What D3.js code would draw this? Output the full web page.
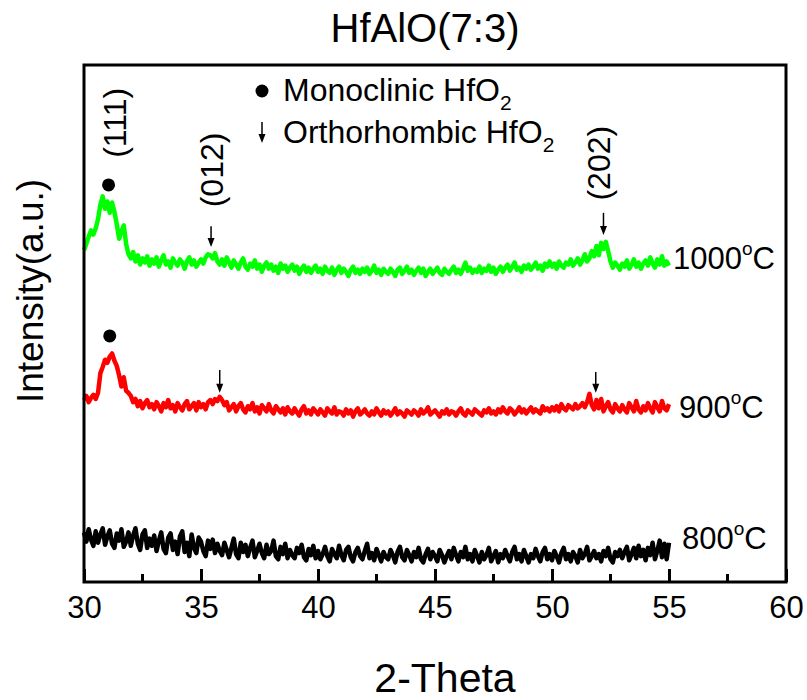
<!DOCTYPE html>
<html>
<head>
<meta charset="utf-8">
<script src="https://cdn.jsdelivr.net/npm/d3@7"></script>
<style>
  body { margin: 0; background: #fff; }
  text { font-family: Arial, "Liberation Sans", sans-serif; fill: #000; }
</style>
</head>
<body>
<script>
// 2-theta grid of the scans (0.1 deg steps, 30 - 55)
var twoTheta = d3.range(0, 251).map(function(i) { return +(30 + i * 0.1).toFixed(1); });

// intensities as plotted (offsets already in), one row per degree
var int800 = [
  96, 78, 102, 82, 70, 98, 76, 92, 104, 72,
  88, 100, 74, 66, 94, 80, 102, 68, 78, 96,
  70, 90, 104, 74, 62, 92, 100, 66, 84, 70,
  90, 60, 80, 96, 64, 56, 86, 94, 62, 78,
  54, 88, 98, 58, 76, 50, 92, 66, 56, 86,
  78, 60, 50, 80, 64, 82, 56, 74, 60, 52,
  76, 62, 48, 66, 84, 54, 46, 76, 58, 72,
  50, 66, 80, 48, 60, 74, 56, 46, 72, 54,
  60, 80, 50, 44, 68, 54, 74, 46, 62, 52,
  46, 66, 56, 72, 48, 42, 64, 52, 70, 46,
  60, 44, 54, 68, 50, 40, 64, 54, 46, 70,
  52, 42, 62, 68, 48, 40, 58, 66, 50, 44,
  60, 74, 46, 56, 42, 64, 52, 40, 58, 48,
  44, 62, 52, 38, 58, 68, 48, 42, 62, 52,
  40, 58, 48, 66, 44, 38, 54, 64, 44, 58,
  50, 40, 62, 52, 38, 50, 60, 44, 66, 52,
  40, 58, 48, 68, 44, 54, 40, 62, 50, 38,
  58, 44, 52, 66, 40, 50, 60, 38, 54, 46,
  62, 50, 40, 58, 68, 44, 54, 40, 62, 50,
  38, 54, 46, 64, 50, 40, 58, 66, 44, 54,
  42, 60, 50, 38, 56, 66, 44, 54, 40, 58,
  50, 38, 62, 46, 54, 68, 42, 50, 60, 46,
  54, 40, 60, 50, 66, 44, 38, 58, 50, 62,
  46, 58, 68, 42, 54, 66, 46, 70, 50, 62,
  42, 66, 52, 76, 44, 60, 80, 48, 74, 44,
  76
];
var int900 = [
  352, 360, 348, 356, 362, 354, 366, 404, 416, 430,
  424, 436, 442, 428, 418, 400, 378, 396, 370, 366,
  360, 348, 354, 340, 350, 336, 346, 352, 338, 344,
  334, 348, 340, 330, 346, 338, 352, 336, 342, 330,
  346, 338, 332, 344, 350, 334, 340, 346, 332, 348,
  338, 344, 334, 348, 352, 344, 354, 350, 358, 352,
  342, 348, 332, 338, 344, 330, 340, 346, 334, 328,
  340, 334, 346, 330, 338, 326, 342, 336, 330, 344,
  332, 326, 340, 334, 328, 336, 324, 338, 330, 326,
  336, 328, 322, 334, 340, 326, 332, 324, 336, 330,
  324, 334, 328, 322, 336, 330, 326, 338, 324, 330,
  328, 322, 334, 326, 332, 320, 330, 336, 324, 328,
  334, 326, 322, 330, 324, 336, 328, 322, 332, 326,
  330, 322, 328, 336, 324, 330, 326, 320, 332, 328,
  324, 332, 328, 322, 334, 326, 330, 338, 324, 328,
  332, 326, 320, 330, 326, 334, 324, 330, 328, 322,
  330, 336, 326, 322, 332, 328, 324, 334, 330, 326,
  322, 332, 328, 336, 326, 330, 324, 334, 328, 338,
  330, 326, 336, 332, 324, 330, 338, 328, 334, 326,
  332, 338, 328, 334, 330, 326, 340, 332, 336, 330,
  338, 332, 340, 330, 344, 336, 332, 342, 338, 334,
  344, 336, 340, 346, 338, 348, 364, 342, 334, 352,
  336, 354, 330, 340, 348, 334, 328, 344, 336, 330,
  342, 334, 328, 346, 338, 330, 350, 334, 328, 340,
  332, 346, 336, 328, 348, 338, 330, 350, 336, 332,
  344
];
var int1000 = [
  642, 654, 668, 680, 672, 684, 702, 730, 746, 722,
  736, 714, 734, 716, 692, 664, 678, 690, 654, 634,
  626, 638, 620, 632, 614, 626, 618, 630, 612, 624,
  616, 628, 610, 622, 632, 614, 620, 608, 626, 618,
  612, 624, 618, 606, 620, 628, 614, 622, 610, 618,
  624, 616, 628, 634, 632, 626, 636, 620, 614, 624,
  612, 628, 618, 608, 622, 614, 606, 618, 626, 610,
  604, 616, 610, 622, 606, 614, 600, 612, 618, 606,
  614, 602, 610, 598, 616, 606, 612, 600, 608, 614,
  602, 610, 596, 606, 612, 600, 608, 598, 606, 612,
  600, 606, 596, 610, 602, 598, 608, 594, 604, 610,
  598, 606, 600, 592, 604, 610, 598, 604, 596, 606,
  600, 608, 596, 602, 612, 598, 604, 594, 606, 600,
  596, 606, 600, 592, 604, 608, 596, 602, 610, 598,
  604, 594, 602, 608, 598, 606, 592, 600, 606, 596,
  602, 608, 598, 594, 606, 600, 596, 604, 610, 598,
  604, 596, 606, 618, 602, 608, 598, 604, 600, 610,
  598, 606, 602, 612, 600, 608, 596, 604, 610, 600,
  608, 614, 602, 610, 618, 604, 608, 600, 612, 606,
  614, 604, 610, 618, 606, 612, 602, 616, 610, 620,
  610, 616, 606, 620, 612, 608, 618, 614, 624, 612,
  618, 626, 614, 622, 634, 620, 626, 640, 630, 650,
  632, 656, 644, 658, 640, 620, 608, 618, 612, 604,
  616, 610, 622, 606, 614, 624, 610, 618, 606, 616,
  622, 612, 628, 616, 608, 624, 614, 630, 612, 620,
  612
];

var seriesNames = ["800", "900", "1000"];
var seriesColors = ["#000000", "#ff0000", "#00ff00"];
var seriesData = [int800, int900, int1000];
var xTicks = [30, 35, 40, 45, 50, 55, 60];
var xMinor = [32.5, 37.5, 42.5, 47.5, 52.5, 57.5];

// peak markers: [2theta, intensity]
var monoDots = [[31.05, 768], [31.1, 476]];
var orthoArrows = [[35.43, 688, 648], [52.2, 714, 671], [35.8, 410, 366], [51.87, 406, 366]];
var peakLabels = [["(111)", 31.32, 888], ["(012)", 35.47, 797], ["(202)", 52.0, 810]];

var W = 807, H = 700;
var pLeft = 84, pRight = 786, pTop = 65, pBottom = 582;

var svg = d3.select("body").append("svg")
    .attr("width", W)
    .attr("height", H);

svg.append("rect").attr("width", W).attr("height", H).attr("fill", "#fff");

var x = d3.scaleLinear().domain([30, 60]).range([pLeft, pRight]);
var y = d3.scaleLinear().domain([0, 1000]).range([pBottom, pTop]);

// lines
var line = d3.line()
    .x(function(d) { return x(d[0]); })
    .y(function(d) { return y(d[1]); });

seriesData.forEach(function(vals, k) {
    svg.append("path")
        .datum(twoTheta.map(function(t, i) { return [t, vals[i]]; }))
        .attr("fill", "none")
        .attr("stroke", seriesColors[k])
        .attr("stroke-width", 4.5)
        .attr("stroke-linejoin", "round")
        .attr("d", line);
});

// axes
var xAxis = svg.append("g")
    .attr("transform", "translate(0," + pBottom + ")")
    .call(d3.axisBottom(x).tickValues(xTicks).tickSize(-13).tickPadding(14).tickSizeOuter(0));
xAxis.select(".domain").remove();
xAxis.selectAll(".tick line").attr("stroke-width", 3);
xAxis.selectAll(".tick text")
    .attr("y", 14)
    .style("font-size", "31px")
    .style("font-family", "Arial, 'Liberation Sans', sans-serif");

svg.append("g").selectAll("line")
    .data(xMinor)
    .enter()
    .append("line")
    .attr("x1", function(d) { return x(d); })
    .attr("x2", function(d) { return x(d); })
    .attr("y1", pBottom)
    .attr("y2", pBottom - 8)
    .attr("stroke", "#000")
    .attr("stroke-width", 3);

svg.append("rect")
    .attr("x", pLeft).attr("y", pTop)
    .attr("width", pRight - pLeft).attr("height", pBottom - pTop)
    .attr("fill", "none")
    .attr("stroke", "#000")
    .attr("stroke-width", 3);

// markers
svg.selectAll("circle.mono")
    .data(monoDots)
    .enter()
    .append("circle")
    .attr("cx", function(d) { return x(d[0]); })
    .attr("cy", function(d) { return y(d[1]); })
    .attr("r", 6.5)
    .attr("fill", "#000");

function arrow(g, px, y1, y2) {
    g.append("line")
        .attr("x1", px).attr("x2", px)
        .attr("y1", y1).attr("y2", y2 - 6)
        .attr("stroke", "#000").attr("stroke-width", 1.5);
    g.append("path")
        .attr("d", "M" + (px - 3.5) + "," + (y2 - 9) + "L" + (px + 3.5) + "," + (y2 - 9) + "L" + px + "," + y2 + "Z")
        .attr("fill", "#000");
}

orthoArrows.forEach(function(a) {
    arrow(svg, x(a[0]), y(a[1]), y(a[2]));
});

svg.selectAll("text.peak")
    .data(peakLabels)
    .enter()
    .append("text")
    .attr("transform", function(d) { return "translate(" + x(d[1]) + "," + y(d[2]) + ") rotate(-90)"; })
    .attr("text-anchor", "middle")
    .attr("dy", "0.35em")
    .style("font-size", "32px")
    .text(function(d) { return d[0]; });

// temperature labels
var tempPos = [[682, 549], [679, 418], [673, 269]];
seriesNames.forEach(function(n, k) {
    var t = svg.append("text")
        .attr("x", tempPos[k][0])
        .attr("y", tempPos[k][1])
        .style("font-size", "31px");
    t.append("tspan").text(n);
    t.append("tspan").attr("dy", -14).style("font-size", "19px").text("o");
    t.append("tspan").attr("dy", 14).text("C");
});

// legend
svg.append("circle").attr("cx", 262).attr("cy", 91).attr("r", 6.5).attr("fill", "#000");
var l1 = svg.append("text").attr("x", 283).attr("y", 101).style("font-size", "32px");
l1.append("tspan").text("Monoclinic HfO");
l1.append("tspan").attr("dy", 9).style("font-size", "21px").text("2");
arrow(svg, 262, 122, 143);
var l2 = svg.append("text").attr("x", 283).attr("y", 143).style("font-size", "32px");
l2.append("tspan").text("Orthorhombic HfO");
l2.append("tspan").attr("dy", 9).style("font-size", "21px").text("2");

// titles
svg.append("text")
    .attr("x", 425).attr("y", 42)
    .attr("text-anchor", "middle")
    .style("font-size", "40px")
    .text("HfAlO(7:3)");

svg.append("text")
    .attr("x", 445).attr("y", 692)
    .attr("text-anchor", "middle")
    .style("font-size", "41px")
    .text("2-Theta");

svg.append("text")
    .attr("transform", "translate(43,291) rotate(-90)")
    .attr("text-anchor", "middle")
    .style("font-size", "37px")
    .text("Intensity(a.u.)");
</script>
</body>
</html>
